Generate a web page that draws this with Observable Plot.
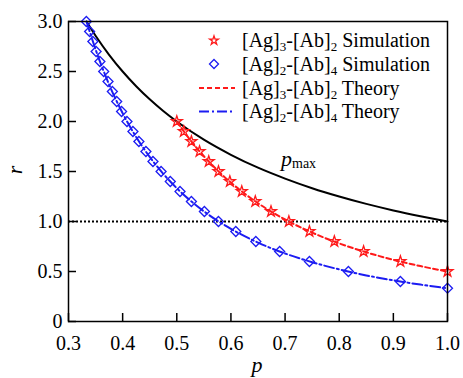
<!DOCTYPE html>
<html><head><meta charset="utf-8">
<script src="https://cdn.jsdelivr.net/npm/d3@7"></script>
<script src="https://cdn.jsdelivr.net/npm/@observablehq/plot@0.6"></script>
<style>
body{margin:0;background:#fff;color:#000;}
#wrap{position:relative;width:463px;height:378px;font-family:'Liberation Serif','DejaVu Serif',serif;}
.ov{position:absolute;white-space:nowrap;margin:0;padding:0;}
.lg{font-size:20px;line-height:20px;left:242px;}
.sb{font-size:13px;position:relative;top:4px;}
</style>
</head><body><div id="wrap"><div id="chart"></div></div>
<script>
// ---- data ----
const xTicks = [0.3,0.4,0.5,0.6,0.7,0.8,0.9,1.0];
const yTicks = [0,0.5,1.0,1.5,2.0,2.5,3.0];

// [Ag]3-[Ab]2 simulation (red stars)
const starP = [0.500,0.513,0.527,0.542,0.559,0.577,0.598,0.620,0.645,0.674,0.707,0.745,0.791,0.845,0.913,1.000];
const starR = [2.0,1.9,1.8,1.7,1.6,1.5,1.4,1.3,1.2,1.1,1.0,0.9,0.8,0.7,0.6,0.5];

// [Ag]2-[Ab]4 simulation (blue diamonds)
const diamondP = [0.333,0.339,0.345,0.351,0.358,0.365,0.373,0.381,0.389,0.398,0.408,0.419,0.430,0.443,0.456,0.471,0.488,0.506,0.527,0.551,0.577,0.609,0.646,0.690,0.745,0.817,0.913,1.000];
const diamondR = [3.0,2.9,2.8,2.7,2.6,2.5,2.4,2.3,2.2,2.1,2.0,1.9,1.8,1.7,1.6,1.5,1.4,1.3,1.2,1.1,1.0,0.9,0.8,0.7,0.6,0.5,0.4,0.333];

// [Ag]3-[Ab]2 theory (red dashed)
const redTheoryP = [0.50,0.525,0.55,0.575,0.60,0.65,0.70,0.75,0.80,0.85,0.90,0.95,1.00];
const redTheoryR = [2.000,1.814,1.653,1.512,1.389,1.183,1.020,0.889,0.781,0.692,0.617,0.554,0.500];

// [Ag]2-[Ab]4 theory (blue dash-dot)
const blueTheoryP = [0.3333,0.35,0.375,0.40,0.425,0.45,0.475,0.50,0.55,0.60,0.65,0.70,0.75,0.80,0.85,0.90,0.95,1.00];
const blueTheoryR = [3.000,2.721,2.370,2.083,1.845,1.646,1.477,1.333,1.102,0.926,0.789,0.680,0.593,0.521,0.461,0.412,0.369,0.333];

// p_max curve (black)
const pmaxP = [0.3333,0.35,0.375,0.40,0.425,0.45,0.475,0.50,0.55,0.60,0.65,0.70,0.75,0.80,0.85,0.90,0.95,1.00];
const pmaxR = [3.000,2.857,2.667,2.500,2.353,2.222,2.105,2.000,1.818,1.667,1.538,1.429,1.333,1.250,1.176,1.111,1.053,1.000];

const refLine = [1.0];

// legend entries
const legendA = ["3", "2", "3", "2"];
const legendB = ["2", "4", "2", "4"];
const legendTail = ["Simulation", "Simulation", "Theory", "Theory"];

const zip = (ps, rs) => ps.map((p, i) => ({p, r: rs[i]}));
const stars = zip(starP, starR);
const diamonds = zip(diamondP, diamondR);
const redTheory = zip(redTheoryP, redTheoryR);
const blueTheory = zip(blueTheoryP, blueTheoryR);
const pmax = zip(pmaxP, pmaxR);

const RED = "#ff1a1a", BLUE = "#1c1cf2";
const fmt = d => d === 0 ? "0" : d.toFixed(1);

const plot = Plot.plot({
  width: 463, height: 378,
  marginTop: 21, marginBottom: 57, marginLeft: 68, marginRight: 16,
  style: {fontSize: "20px"},
  x: {domain: [0.3, 1.0], label: null},
  y: {domain: [0, 3], label: null},
  marks: [
    Plot.ruleY(refLine, {stroke: "black", strokeWidth: 2, strokeDasharray: "2,2"}),
    Plot.line(pmax, {x: "p", y: "r", stroke: "black", strokeWidth: 2, curve: "monotone-x"}),
    Plot.line(redTheory, {x: "p", y: "r", stroke: RED, strokeWidth: 2, strokeDasharray: "5,3", curve: "monotone-x"}),
    Plot.line(blueTheory, {x: "p", y: "r", stroke: BLUE, strokeWidth: 2, strokeDasharray: "10,3,2,3", curve: "monotone-x"}),
    Plot.dot(stars, {x: "p", y: "r", symbol: "star", r: 3.4, stroke: RED, fill: "none", strokeWidth: 1.3}),
    Plot.dot(diamonds, {x: "p", y: "r", symbol: "diamond2", r: 4.5, stroke: BLUE, fill: "none", strokeWidth: 1.3}),
    Plot.axisX(xTicks, {tickSize: 8, dy: -8, tickFormat: () => "", label: null, strokeWidth: 1.5}),
    Plot.axisX(xTicks, {tickSize: 0, tickPadding: 14, tickFormat: fmt, label: null}),
    Plot.axisY(yTicks, {tickSize: 8, dx: 8, tickFormat: () => "", label: null, strokeWidth: 1.5}),
    Plot.axisY(yTicks, {tickSize: 0, tickPadding: 6, tickFormat: fmt, label: null}),
    Plot.frame({stroke: "black", strokeWidth: 1.5})
  ]
});
document.getElementById("chart").appendChild(plot);
const svg = d3.select(plot);
svg.attr("font-family", "Liberation Serif, DejaVu Serif, serif");

// legend symbols (drawn in the SVG)
const bases = [47, 70.5, 94.5, 118];
const kinds = ["star", "diamond", "dash", "dashdot"];
const lg = svg.append("g");
kinds.forEach((kind, i) => {
  const cy = bases[i] - 6.5;
  if (kind === "star") {
    lg.append("path").attr("d", d3.symbol(d3.symbolStar, 24)()).attr("transform", `translate(214,${cy})`)
      .attr("fill", "none").attr("stroke", RED).attr("stroke-width", 1.3);
  } else if (kind === "diamond") {
    lg.append("path").attr("d", d3.symbol(d3.symbolDiamond2, 51.6)()).attr("transform", `translate(214,${cy})`)
      .attr("fill", "none").attr("stroke", BLUE).attr("stroke-width", 1.3);
  } else {
    lg.append("line").attr("x1", 199).attr("x2", 235).attr("y1", cy).attr("y2", cy)
      .attr("stroke", kind === "dash" ? RED : BLUE).attr("stroke-width", 2)
      .attr("stroke-dasharray", kind === "dash" ? "5,3" : "10,3,2,3");
  }
});

// text overlays (legend labels, axis titles, p_max)
const wrap = d3.select("#wrap");
kinds.forEach((kind, i) => {
  wrap.append("div").attr("class", "ov lg").style("top", (bases[i] - 16.75) + "px")
    .html(`[Ag]<span class="sb">${legendA[i]}</span>-[Ab]<span class="sb">${legendB[i]}</span> ${legendTail[i]}`);
});
wrap.append("div").attr("class", "ov").style("left", "257px").style("top", "353.6px")
  .style("transform", "translateX(-50%)").style("font-size", "22px").style("line-height", "22px")
  .style("font-style", "italic").text("p");
wrap.append("div").attr("class", "ov").style("left", "14.6px").style("top", "170px")
  .style("transform", "translate(-50%,-50%) rotate(-90deg)").style("font-size", "22px").style("line-height", "22px")
  .style("font-style", "italic").text("r");
wrap.append("div").attr("class", "ov").style("left", "281px").style("top", "147.6px")
  .style("font-size", "22px").style("line-height", "22px")
  .html('<i>p</i><span style="font-size:14px;position:relative;top:2px">max</span>');
</script>
</body></html>
